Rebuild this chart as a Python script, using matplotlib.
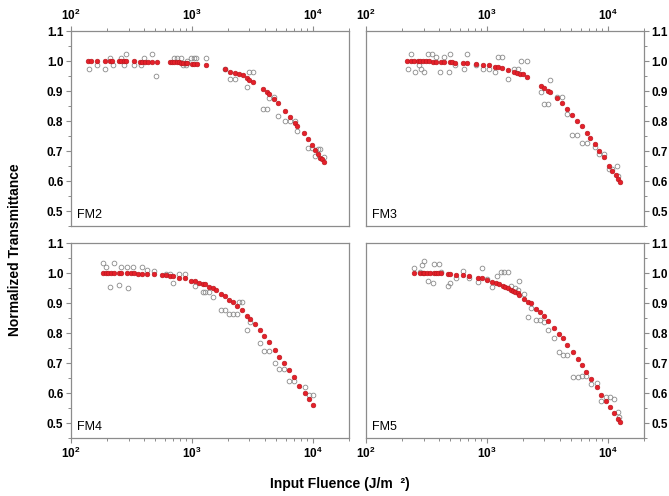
import matplotlib
matplotlib.use('Agg')
import matplotlib.pyplot as plt
from matplotlib.ticker import LogLocator, MultipleLocator, FormatStrFormatter, NullFormatter, FuncFormatter
import numpy as np

plt.rcParams['font.family'] = ['Liberation Sans', 'DejaVu Sans']
plt.rcParams['mathtext.fontset'] = 'custom'
plt.rcParams['mathtext.rm'] = 'Liberation Sans:bold'
plt.rcParams['mathtext.bf'] = 'Liberation Sans:bold'
plt.rcParams['mathtext.it'] = 'Liberation Sans:bold'
plt.rcParams['mathtext.default'] = 'bf'

# ---- data (fluence in J/m^2, normalized transmittance) ----
# FM2
fm2_fit_x = [139, 146, 163, 190, 209, 220, 249, 261, 276, 283, 330, 374, 389, 409, 430, 464, 517,
             657, 687, 714, 747, 781, 817, 848, 887, 921, 1006, 1052, 1100, 1313,
             1895, 2088, 2266, 2445, 2637, 2864, 2996, 3211, 3860, 4195, 4386, 4762, 5137, 5908,
             6455, 7144, 7469, 8427, 9209, 9870, 10515, 10990, 11423, 11931, 12320]
fm2_fit_t = [1.0, 1.0, 1.0, 1.0, 1.0, 1.0, 1.0, 1.0, 1.0, 1.0, 1.0, 0.998, 0.998, 0.998, 0.997, 0.997, 0.997,
             0.997, 0.996, 0.996, 0.996, 0.996, 0.994, 0.993, 0.993, 0.993, 0.991, 0.990, 0.989, 0.986,
             0.972, 0.964, 0.960, 0.957, 0.952, 0.942, 0.937, 0.929, 0.906, 0.896, 0.889, 0.872, 0.861, 0.834,
             0.814, 0.794, 0.784, 0.759, 0.739, 0.720, 0.703, 0.689, 0.676, 0.672, 0.663]
fm2_meas_x = [141, 163, 190, 209, 224, 261, 276, 283, 330, 379, 399, 470, 510, 714, 747, 811, 843, 887,
              921, 993, 1052, 1087, 1313, 1895, 2088, 2266, 2864, 2958, 3211, 3860, 4195, 4386, 4820,
              5137, 5908, 6455, 7144, 7469, 9209, 9870, 10515, 10990, 11560, 12320]
fm2_meas_t = [0.974, 0.986, 0.974, 1.011, 0.986, 1.011, 0.986, 1.024, 0.986, 0.986, 1.011, 1.022, 0.951,
              1.011, 1.011, 1.011, 0.986, 0.986, 1.0, 1.011, 1.011, 1.011, 1.011, 0.974, 0.939, 0.939,
              0.914, 0.962, 0.962, 0.839, 0.839, 0.878, 0.881, 0.817, 0.800, 0.800, 0.800, 0.766, 0.710,
              0.710, 0.683, 0.707, 0.707, 0.679]

# FM3
fm3_fit_x = [219, 236, 252, 268, 282, 297, 314, 335, 357, 380, 418, 440, 493, 512, 549, 639, 681,
             813, 923, 1048, 1174, 1244, 1326, 1487, 1687, 1775, 1880, 1990, 2133,
             2804, 2951, 3224, 3349, 3802, 4153, 4654, 5091, 5600, 6082, 6686, 7168, 7786, 8506,
             9294, 10286, 10960, 11680, 12210, 12680]
fm3_fit_t = [0.999, 0.999, 0.999, 0.999, 0.999, 0.999, 0.999, 0.999, 0.998, 0.998, 0.998, 0.997,
             0.996, 0.996, 0.994, 0.993, 0.993,
             0.989, 0.988, 0.986, 0.981, 0.979, 0.977, 0.971, 0.963, 0.961, 0.958, 0.956, 0.948,
             0.918, 0.911, 0.899, 0.896, 0.877, 0.860, 0.839, 0.821, 0.800, 0.782, 0.761, 0.744,
             0.722, 0.700, 0.679, 0.651, 0.634, 0.619, 0.608, 0.598]
fm3_meas_x = [222, 236, 255, 277, 286, 304, 324, 350, 380, 413, 440, 484, 493, 546, 643, 681, 813, 923,
              1048, 1174, 1244, 1326, 1487, 1687, 1795, 1914, 2133, 2804, 2951, 3224, 3349, 3802,
              4153, 4654, 5091, 5600, 6082, 6686, 7786, 8506, 9294, 10286, 10960, 11910, 12210]
fm3_meas_t = [0.974, 1.023, 0.964, 0.988, 0.974, 0.964, 1.023, 1.023, 1.012, 0.964, 1.012, 0.964,
              1.023, 0.988, 0.974, 1.023, 0.988, 0.974, 0.974, 0.964, 1.012, 1.012, 0.941, 0.974,
              0.974, 0.999, 0.999, 0.896, 0.857, 0.857, 0.937, 0.879, 0.879, 0.822, 0.753, 0.753,
              0.727, 0.727, 0.714, 0.691, 0.691, 0.639, 0.639, 0.650, 0.618]

# FM4
fm4_fit_x = [185, 194, 202, 213, 227, 249, 259, 292, 311, 332, 360, 389, 425, 485, 562, 614, 658,
             701, 781, 876, 987, 1072, 1157, 1233, 1297, 1400, 1492, 1589, 1759, 1897, 2048, 2210,
             2370, 2590, 2885, 3054, 3318, 3650, 3962, 4329, 4914, 5304, 5838, 6339, 7014, 7761,
             8587, 9268, 10070]
fm4_fit_t = [1.0, 1.0, 1.0, 1.0, 1.0, 1.0, 1.0, 1.0, 1.0, 0.999, 0.998, 0.998, 0.998, 0.997, 0.993,
             0.992, 0.991, 0.989, 0.984, 0.982, 0.974, 0.972, 0.968, 0.964, 0.962, 0.953, 0.949,
             0.942, 0.930, 0.922, 0.910, 0.903, 0.890, 0.877, 0.857, 0.846, 0.830, 0.810, 0.789,
             0.771, 0.743, 0.721, 0.699, 0.678, 0.652, 0.624, 0.599, 0.580, 0.560]
fm4_meas_x = [185, 196, 210, 227, 249, 259, 292, 298, 325, 389, 425, 485, 614, 658, 701, 781, 876,
              1072, 1233, 1297, 1400, 1492, 1759, 1897, 2048, 2210, 2370, 2445, 2590, 2885, 3054,
              3650, 3962, 4329, 4914, 5304, 5838, 6339, 7014, 8587, 9268, 10070]
fm4_meas_t = [1.032, 1.021, 0.954, 1.032, 0.960, 1.019, 1.019, 0.949, 1.019, 1.021, 1.010, 1.008,
              0.996, 0.996, 0.968, 0.996, 0.996, 0.957, 0.936, 0.936, 0.936, 0.919, 0.876, 0.876,
              0.863, 0.863, 0.863, 0.903, 0.903, 0.810, 0.838, 0.766, 0.740, 0.740, 0.699, 0.680,
              0.680, 0.639, 0.639, 0.619, 0.593, 0.593]

# FM5
fm5_fit_x = [248, 282, 295, 304, 320, 341, 364, 380, 392, 418, 474, 499, 556, 631, 707, 839, 906,
             997, 1104, 1191, 1269, 1352, 1422, 1487, 1584, 1634, 1720, 1798, 1857, 2043, 2205,
             2318, 2549, 2768, 2950, 3184, 3614, 3978, 4238, 4603, 5128, 5637, 6084, 6607, 7265,
             8090, 8788, 9664, 10424, 11324, 12218, 12692]
fm5_fit_t = [1.0, 1.0, 1.0, 1.0, 0.999, 0.999, 0.999, 0.999, 0.999, 0.999, 0.996, 0.996, 0.994,
             0.992, 0.989, 0.982, 0.982, 0.978, 0.970, 0.966, 0.962, 0.958, 0.954, 0.950, 0.943,
             0.940, 0.936, 0.932, 0.928, 0.912, 0.903, 0.899, 0.881, 0.870, 0.857, 0.840, 0.816,
             0.796, 0.782, 0.761, 0.737, 0.713, 0.694, 0.670, 0.646, 0.621, 0.594, 0.574, 0.554,
             0.532, 0.514, 0.502]
fm5_meas_x = [248, 282, 289, 304, 324, 357, 368, 405, 418, 474, 499, 556, 631, 707, 839, 906, 997,
              1104, 1213, 1309, 1396, 1487, 1584, 1720, 1798, 1857, 2043, 2205, 2318, 2549, 2768,
              2950, 3184, 3614, 3978, 4238, 4603, 5128, 5637, 6084, 6607, 7265, 8090, 8788, 9664,
              10424, 11324, 12218, 12500]
fm5_meas_t = [1.017, 1.002, 1.028, 1.041, 0.974, 0.968, 1.030, 1.030, 1.002, 0.957, 0.968, 0.982,
              1.006, 0.982, 0.970, 1.017, 0.979, 0.954, 0.990, 1.002, 1.002, 1.002, 0.957, 0.951,
              0.942, 0.974, 0.930, 0.853, 0.883, 0.842, 0.842, 0.838, 0.810, 0.782, 0.737, 0.726,
              0.726, 0.654, 0.654, 0.657, 0.657, 0.630, 0.632, 0.573, 0.588, 0.588, 0.580, 0.537,
              0.519]

panel_names = ['FM2', 'FM3', 'FM4', 'FM5']
panels = [(fm2_meas_x, fm2_meas_t, fm2_fit_x, fm2_fit_t),
          (fm3_meas_x, fm3_meas_t, fm3_fit_x, fm3_fit_t),
          (fm4_meas_x, fm4_meas_t, fm4_fit_x, fm4_fit_t),
          (fm5_meas_x, fm5_meas_t, fm5_fit_x, fm5_fit_t)]

# axes boxes in figure pixels: left, top (from image top)
W, H = 669, 496
boxes = [(71, 31), (366, 31), (71, 243), (366, 243)]
bw, bh = 278, 195

fig = plt.figure(figsize=(W / 100, H / 100), dpi=100)
spine_col = '#8c8c8c'


def decade(v, pos):
    return r'$\mathbf{10^{%d}}$' % int(round(np.log10(v)))


for i, (name, (mx, mt, fx, ft)) in enumerate(zip(panel_names, panels)):
    left, top = boxes[i]
    ax = fig.add_axes([left / W, (H - top - bh) / H, bw / W, bh / H])

    ax.plot(mx, mt, 'o', ms=3.4, mfc='none', mec='#8a8a8a', mew=0.6, zorder=2)
    ax.plot(fx, ft, 'o', ms=3.4, mfc='#e5202a', mec='#b5161c', mew=0.4, zorder=3)

    ax.set_xscale('log')
    ax.set_xlim(100, 2e4)
    ax.set_ylim(0.45, 1.1)
    ax.xaxis.set_major_locator(LogLocator(base=10, numticks=5))
    ax.xaxis.set_major_formatter(FuncFormatter(decade))
    ax.xaxis.set_minor_locator(LogLocator(base=10, subs=range(2, 10), numticks=20))
    ax.xaxis.set_minor_formatter(NullFormatter())
    ax.yaxis.set_major_locator(MultipleLocator(0.1))
    ax.yaxis.set_minor_locator(MultipleLocator(0.05))
    ax.yaxis.set_major_formatter(FormatStrFormatter('%.1f'))

    for s in ax.spines.values():
        s.set_color(spine_col)
        s.set_linewidth(0.9)

    if i < 2:
        ax.xaxis.tick_top()
    else:
        ax.xaxis.tick_bottom()
    if i % 2 == 1:
        ax.yaxis.tick_right()
    else:
        ax.yaxis.tick_left()

    ax.tick_params(which='major', direction='out', length=3.5, width=0.8, color=spine_col,
                   labelsize=8.5, pad=2)
    ax.tick_params(which='minor', direction='out', length=2, width=0.7, color=spine_col)
    for lab in ax.get_yticklabels():
        lab.set_fontweight('bold')

    ax.text(0.022, 0.025, name, transform=ax.transAxes, fontsize=9, ha='left', va='bottom')

fig.text(0.022, 0.496, 'Normalized Transmittance', rotation=90, fontsize=10,
         fontweight='bold', ha='center', va='center')
fig.text(0.508, 0.024, 'Input Fluence (J/m  \u00b2)', fontsize=10, fontweight='bold',
         ha='center', va='center')

plt.savefig('out.png', dpi=100)
